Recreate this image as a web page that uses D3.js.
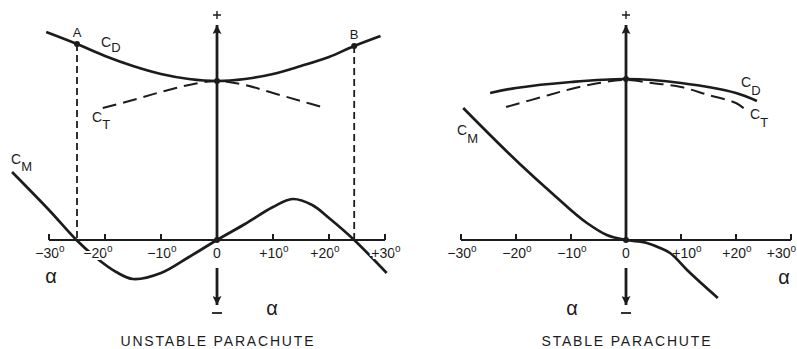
<!DOCTYPE html>
<html>
<head>
<meta charset="utf-8">
<script src="https://cdn.jsdelivr.net/npm/d3@7/dist/d3.min.js"></script>
<style>
  html, body { margin: 0; padding: 0; background: #fff; }
  svg { display: block; font-family: "Liberation Sans", Arial, Helvetica, sans-serif; }
</style>
</head>
<body>
<svg id="chart" width="797" height="349"></svg>
<script>
// ---- tick data ----
const tickValues = [-30, -20, -10, 0, 10, 20, 30];
const tickLabels = ["\u221230", "\u221220", "\u221210", "0", "+10", "+20", "+30"];

// ---- UNSTABLE parachute ----
const uCdAlpha = [-30.5, -25, -20, -15, -10, -5, 0, 5, 10, 15, 20, 24.5, 29.2];
const uCd      = [2.08, 1.96, 1.84, 1.74, 1.66, 1.61, 1.59, 1.61, 1.66, 1.74, 1.83, 1.94, 2.04];
const uCtAlpha = [-20.4, -15, -10, -5, 0, 5, 10, 15, 19.3];
const uCt      = [1.32, 1.40, 1.48, 1.55, 1.59, 1.55, 1.47, 1.39, 1.32];
const uCmAlpha = [-36.6, -30, -25.1, -21.3, -18, -15, -10, -5, 0, 5, 10, 13.5, 17, 20, 24.5, 30.3];
const uCm      = [0.68, 0.30, 0, -0.19, -0.32, -0.39, -0.33, -0.17, 0, 0.16, 0.33, 0.41, 0.35, 0.22, 0, -0.33];
const uMarks   = [{name: "A", alpha: -25, cd: 1.96}, {name: "B", alpha: 24.5, cd: 1.94}];

// ---- STABLE parachute ----
const sCdAlpha = [-24.7, -20, -10, 0, 10, 20, 23.8];
const sCd      = [1.47, 1.52, 1.58, 1.61, 1.57, 1.47, 1.39];
const sCtAlpha = [-21.8, -14, -10, -4.9, 0, 4.7, 10, 15, 20, 21.8];
const sCt      = [1.33, 1.45, 1.51, 1.57, 1.60, 1.57, 1.53, 1.45, 1.37, 1.30];
const sCmAlpha = [-29.6, -19.3, -13.3, -7.1, -3.5, 0, 3.8, 6.2, 8.0, 11.1, 16.7];
const sCm      = [1.32, 0.76, 0.46, 0.17, 0.05, 0, -0.03, -0.08, -0.13, -0.30, -0.58];

const ink = "#1c1c1c";
const svg = d3.select("#chart");
const W = 797;

const defs = svg.append("defs");
defs.append("marker").attr("id", "arrow")
  .attr("viewBox", "0 0 10 10").attr("refX", 10).attr("refY", 5)
  .attr("markerWidth", 12).attr("markerHeight", 9).attr("markerUnits", "userSpaceOnUse")
  .attr("orient", "auto")
  .append("path").attr("d", "M0,0 L10,5 L0,10 L2,5 Z").attr("fill", ink);

const y = d3.scaleLinear().domain([0, 1]).range([240, 140]);

function zip(a, b) { return a.map((v, i) => [v, b[i]]); }

function panel(cfg) {
  const x = d3.scaleLinear().domain([-30, 30]).range(cfg.range);
  const x0 = x(0);
  const g = svg.append("g");
  const line = d3.line().x(d => x(d[0])).y(d => y(d[1])).curve(d3.curveCatmullRom.alpha(0.5));
  const cmLine = d3.line().x(d => x(d[0])).y(d => y(d[1])).curve(cfg.cmCurve);

  // x axis
  g.append("line").attr("x1", x(-30)).attr("x2", x(30)).attr("y1", y(0)).attr("y2", y(0))
    .attr("stroke", ink).attr("stroke-width", 2.2);
  g.selectAll(".tk").data(tickValues).join("line")
    .attr("x1", d => x(d)).attr("x2", d => x(d)).attr("y1", y(0)).attr("y2", y(0) - 6)
    .attr("stroke", ink).attr("stroke-width", 2);

  // vertical axis with arrows
  g.append("line").attr("x1", x0).attr("x2", x0).attr("y1", y(0)).attr("y2", 25)
    .attr("stroke", ink).attr("stroke-width", 2.8).attr("marker-end", "url(#arrow)");
  g.append("line").attr("x1", x0).attr("x2", x0).attr("y1", 268).attr("y2", 305)
    .attr("stroke", ink).attr("stroke-width", 2.8).attr("marker-end", "url(#arrow)");
  // + and − signs
  g.append("path").attr("d", `M${x0 - 4},15 H${x0 + 4} M${x0},11 V19`)
    .attr("stroke", ink).attr("stroke-width", 1.4).attr("fill", "none");
  g.append("path").attr("d", `M${x0 - 5},313 H${x0 + 5}`)
    .attr("stroke", ink).attr("stroke-width", 1.8).attr("fill", "none");

  if (cfg.marks) {
    cfg.marks.forEach(m => {
      g.append("line").attr("x1", x(m.alpha)).attr("x2", x(m.alpha))
        .attr("y1", y(m.cd)).attr("y2", y(0))
        .attr("stroke", ink).attr("stroke-width", 1.8).attr("stroke-dasharray", "7,4");
    });
  }

  const drawCurves = () => {
    g.append("path").attr("d", line(zip(cfg.cdA, cfg.cd))).attr("fill", "none")
      .attr("stroke", ink).attr("stroke-width", 2.7);
    g.append("path").attr("d", line(zip(cfg.ctA, cfg.ct))).attr("fill", "none")
      .attr("stroke", ink).attr("stroke-width", 2).attr("stroke-dasharray", "14,7");
    g.append("path").attr("d", cmLine(zip(cfg.cmA, cfg.cm))).attr("fill", "none")
      .attr("stroke", ink).attr("stroke-width", 2.7);
  };
  if (cfg.halo) drawCurves();

  // tick labels
  const nudge = cfg.nudge || {};
  const tl = g.selectAll(".tl").data(tickValues).join("text")
    .attr("x", d => x(d) + (d === 0 ? 0 : 1) + (nudge[d] || 0)).attr("y", 258).attr("text-anchor", "middle")
    .attr("font-size", 14).attr("fill", ink)
    .attr("stroke", cfg.halo ? "#fff" : "none").attr("stroke-width", 4).attr("paint-order", "stroke");
  tl.append("tspan").text((d, i) => tickLabels[i]);
  tl.filter(d => d !== 0).append("tspan").attr("font-size", 10).attr("dy", -6).text("o");
  // keep labels inside the picture
  tl.each(function () {
    const bb = this.getBBox();
    if (bb.x + bb.width > W - 0.5) {
      d3.select(this).attr("x", +d3.select(this).attr("x") - (bb.x + bb.width - (W - 0.5)));
    }
  });

  if (!cfg.halo) drawCurves();

  // dots
  const dots = [[0, cfg.cd[cfg.cdA.indexOf(0)]], [0, 0]];
  if (cfg.marks) cfg.marks.forEach(m => dots.push([m.alpha, m.cd]));
  g.selectAll(".dot").data(dots).join("circle")
    .attr("cx", d => x(d[0])).attr("cy", d => y(d[1])).attr("r", 3).attr("fill", ink);

  if (cfg.marks) {
    cfg.marks.forEach(m => {
      g.append("text").attr("x", x(m.alpha)).attr("y", y(m.cd) - 7).attr("text-anchor", "middle")
        .attr("font-size", 13).attr("fill", ink).text(m.name);
    });
  }

  // curve labels
  cfg.labels.forEach(l => {
    const t = g.append("text").attr("x", l.x).attr("y", l.y).attr("font-size", 14).attr("fill", ink);
    t.append("tspan").text("C");
    t.append("tspan").attr("dy", l.dy).attr("font-size", 13).text(l.sub);
  });

  // alpha labels
  cfg.alphas.forEach(a => {
    g.append("text").attr("x", a[0]).attr("y", a[1]).attr("text-anchor", "middle")
      .attr("font-size", 20).attr("fill", ink).text("\u03b1");
  });

  // title
  g.append("text").attr("x", x0).attr("y", 346).attr("text-anchor", "middle")
    .attr("font-size", 14).attr("fill", ink)
    .attr("textLength", cfg.titleLen).attr("lengthAdjust", "spacing").text(cfg.title);
}

panel({
  range: [49, 385], cdA: uCdAlpha, cd: uCd, ctA: uCtAlpha, ct: uCt, cmA: uCmAlpha, cm: uCm,
  cmCurve: d3.curveCatmullRom.alpha(0.5),
  marks: uMarks, halo: true, nudge: {"-20": -8, "20": -5},
  labels: [{x: 101, y: 47, sub: "D", dy: 5}, {x: 92, y: 122, sub: "T", dy: 7}, {x: 11, y: 164, sub: "M", dy: 7}],
  alphas: [[51, 283], [272, 315]],
  title: "UNSTABLE PARACHUTE", titleLen: 193
});
panel({
  range: [461, 791], cdA: sCdAlpha, cd: sCd, ctA: sCtAlpha, ct: sCt, cmA: sCmAlpha, cm: sCm,
  cmCurve: d3.curveMonotoneX,
  marks: null, halo: false, nudge: {"10": 5},
  labels: [{x: 741, y: 87, sub: "D", dy: 8}, {x: 750, y: 119, sub: "T", dy: 8}, {x: 457, y: 135, sub: "M", dy: 8}],
  alphas: [[784, 284], [572, 315]],
  title: "STABLE PARACHUTE", titleLen: 169
});
</script>
</body>
</html>
